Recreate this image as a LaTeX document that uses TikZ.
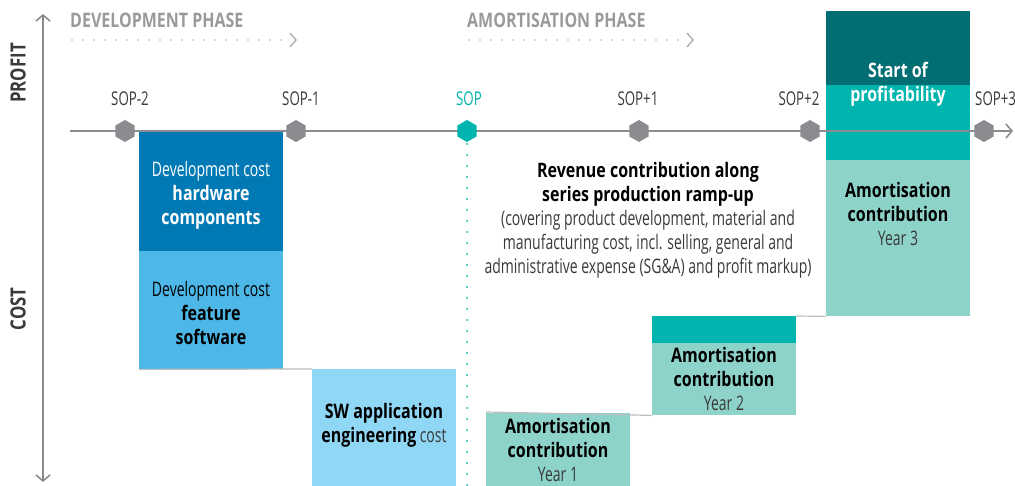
\documentclass[tikz,border=0pt]{standalone}
\usepackage{fontspec}
\setmainfont{Open Sans}[FakeStretch=0.7,BoldFeatures={FakeStretch=0.8}]
\usetikzlibrary{arrows.meta,shapes.geometric}
\definecolor{axisgray}{HTML}{8A8C8F}
\definecolor{stepgray}{HTML}{BDBDBD}
\definecolor{headgray}{HTML}{9A9A9A}
\definecolor{dotgray}{HTML}{B0B0B0}
\definecolor{txtgray}{HTML}{3A3A3A}
\definecolor{hwblue}{HTML}{0079B5}
\definecolor{featblue}{HTML}{4DB8E8}
\definecolor{swblue}{HTML}{8FD7F5}
\definecolor{tealc}{HTML}{00B5AD}
\definecolor{darkteal}{HTML}{006E73}
\definecolor{lightteal}{HTML}{8ED3CA}
\begin{document}
\begin{tikzpicture}[x=1pt,y=-1pt,
  box/.style={draw=none,inner sep=0pt,anchor=north west},
  hex/.style={regular polygon,regular polygon sides=6,shape border rotate=30,minimum size=22pt,inner sep=0pt,fill=axisgray},
  lbl/.style={font=\fontsize{19}{21}\selectfont,text=txtgray,inner sep=0pt},
  head/.style={font=\fontsize{20}{22}\selectfont\bfseries,text=headgray,inner sep=0pt,anchor=west},
  axlbl/.style={font=\fontsize{21}{22}\selectfont\bfseries,text=txtgray,rotate=90,inner sep=0pt},
  btxt/.style={font=\fontsize{20}{24}\selectfont,align=center,inner sep=0pt},
  chev/.style={-{Straight Barb[length=6pt,width=14pt,line width=1.6pt]}},
  dots/.style={line width=2pt,line cap=round,dash pattern=on 0pt off 11pt}
]
\useasboundingbox (0,0) rectangle (1015,486);
\clip (0,0) rectangle (1015,486);

% boxes
\node[box,fill=hwblue,minimum width=144pt,minimum height=120pt] (hw) at (139,131) {};
\node[box,fill=featblue,minimum width=144pt,minimum height=118pt] (feat) at (139,251) {};
\node[box,fill=swblue,minimum width=144pt,minimum height=117pt] (sw) at (312,369) {};
\node[box,fill=lightteal,minimum width=144pt,minimum height=73pt] (y1) at (486,413) {};
\node[box,fill=tealc,minimum width=144pt,minimum height=27pt] (y2t) at (652,316) {};
\node[box,fill=lightteal,minimum width=144pt,minimum height=72pt] (y2) at (652,343) {};
\node[box,fill=darkteal,minimum width=144pt,minimum height=74pt] (y3d) at (826,11) {};
\node[box,fill=tealc,minimum width=144pt,minimum height=75pt] (y3t) at (826,85) {};
\node[box,fill=lightteal,minimum width=144pt,minimum height=156pt] (y3) at (826,160) {};

% step lines
\draw[stepgray,line width=1.2pt] (feat.south west) -- (sw.north west);
\draw[stepgray,line width=1.2pt] ([yshift=1pt]y1.north west) -- (y2.south west);
\draw[stepgray,line width=1.2pt] (y2t.north east) -- (y3.south west);

% axes
\coordinate (axtop) at (43,14);
\coordinate (axbot) at (43,482);
\coordinate (axmid) at (43,131);
\draw[axisgray,line width=2pt,chev] (axmid) -- (axtop);
\draw[axisgray,line width=2pt,chev] (axmid) -- (axbot);
\node[axlbl] (profit) at (18,73) {PROFIT};
\node[axlbl] (cost) at (18,309) {COST};

% timeline
\coordinate (tl0) at (70,131);
\coordinate (tl1) at (1013,131);
\draw[axisgray,line width=2pt,chev] (tl0) -- (tl1);

% SOP dotted line
\coordinate (sopb) at (467,486);
\draw[tealc,dots] (467,144) -- (sopb);

% hexagons
\node[hex] (h1) at (125,131) {};
\node[hex] (h2) at (296,131) {};
\node[hex,fill=tealc] (h3) at (467,131) {};
\node[hex] (h4) at (639,131) {};
\node[hex] (h5) at (810,131) {};
\node[hex] (h6) at (984,131) {};

% hex labels
\node[lbl] (s1) at (130,99) {SOP-2};
\node[lbl] (s2) at (301,99) {SOP-1};
\node[lbl,text=tealc] (s3) at (469,99) {SOP};
\node[lbl] (s4) at (638,99) {SOP+1};
\node[lbl] (s5) at (799,99) {SOP+2};
\node[lbl,anchor=west] (s6) at (975,99) {SOP+3};

% phase headers
\node[head] (dev) at (70,20) {DEVELOPMENT PHASE};
\coordinate (dev0) at (72,40);
\draw[dotgray,dots,line width=1.8pt] (dev0) -- (285,40);
\draw[dotgray,line width=1.4pt] (290,33) -- (296,40) -- (290,47);
\node[head] (amo) at (467,20) {AMORTISATION PHASE};
\coordinate (amo0) at (469,40);
\draw[dotgray,dots,line width=1.8pt] (amo0) -- (683,40);
\draw[dotgray,line width=1.4pt] (687,33) -- (693,40) -- (687,47);

% box texts
\node[btxt,text=white] (thw) at (211,195) {Development cost\\\textbf{hardware}\\\textbf{components}};
\node[btxt,text=black] (tfeat) at (211,313) {Development cost\\\textbf{feature}\\\textbf{software}};
\node[btxt,text=black] (tsw) at (384,425) {\textbf{SW application}\\\textbf{engineering}\,{\color{txtgray}cost}};
\node[btxt,text=black] (ty1) at (558,450) {\textbf{Amortisation}\\\textbf{contribution}\\{\color{txtgray}Year 1}};
\node[btxt,text=black] (ty2) at (724,379) {\textbf{Amortisation}\\\textbf{contribution}\\{\color{txtgray}Year 2}};
\node[btxt,text=black] (ty3) at (898,214) {\textbf{Amortisation}\\\textbf{contribution}\\{\color{txtgray}Year 3}};
\node[btxt,text=white,font=\fontsize{20}{24}\selectfont\bfseries] (tstart) at (898,84) {Start of\\profitability};
\node[btxt,text=txtgray] (trev) at (648,220) {{\color{black}\textbf{Revenue contribution along}}\\{\color{black}\textbf{series production ramp-up}}\\(covering product development, material and\\manufacturing cost, incl. selling, general and\\administrative expense (SG\&A) and profit markup)};
\end{tikzpicture}
\end{document}
